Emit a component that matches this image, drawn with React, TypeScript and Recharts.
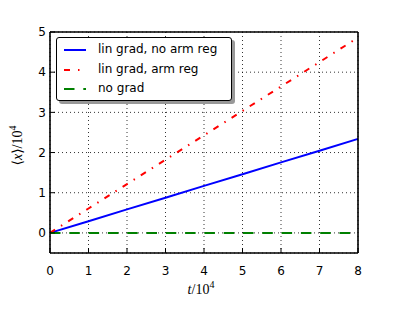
import React from 'react';
import { LineChart, Line, XAxis, YAxis, CartesianGrid, Legend } from 'recharts';

const tValues = [0, 1, 2, 3, 4, 5, 6, 7, 8];
const linNoArm = [0, 0.29, 0.585, 0.875, 1.17, 1.46, 1.755, 2.045, 2.34];
const linArm = [0, 0.607, 1.215, 1.822, 2.43, 3.037, 3.645, 4.252, 4.86];
const noGrad = [0, 0, 0, 0, 0, 0, 0, 0, 0];
const xTicks = [0, 1, 2, 3, 4, 5, 6, 7, 8];
const yTicks = [0, 1, 2, 3, 4, 5];
const seriesNames = ['lin grad, no arm reg', 'lin grad, arm reg', 'no grad'];
const seriesColors = ['#0000ff', '#ff0000', '#008000'];
const seriesDash = ['', '6 7 1.5 7', '10.5 8.8'];
const legendDash = ['', '6 8 1.5 8', '10.5 8.8'];

const data = tValues.map((t, i) => ({ t, a: linNoArm[i], b: linArm[i], c: noGrad[i] }));
const keys = ['a', 'b', 'c'];

const tickStyle = { fill: '#000', fontSize: 12, fontFamily: 'DejaVu Sans' };
const axisLineStyle = { stroke: '#000', strokeWidth: 1.6 };
const tickLineStyle = { stroke: '#000', strokeWidth: 1 };

const XLabel = (props: any) => {
  const vb = props.viewBox || { x: 50, y: 253, width: 308, height: 30 };
  const cx = vb.x + vb.width / 2 - 3;
  return (
    <text x={cx} y={vb.y + 41} textAnchor="middle" fontFamily="Liberation Serif, DejaVu Serif, serif" fontSize={14} fill="#000">
      <tspan fontStyle="italic">t</tspan>
      <tspan>/10</tspan>
      <tspan dy={-6} fontSize={10}>4</tspan>
    </text>
  );
};

const YLabel = (props: any) => {
  const vb = props.viewBox || { x: 20, y: 32, width: 30, height: 221 };
  const x = vb.x + vb.width - 28;
  const y = vb.y + vb.height / 2 + 3;
  return (
    <text x={x} y={y} transform={`rotate(-90, ${x}, ${y})`} textAnchor="middle" fontFamily="Liberation Serif, DejaVu Serif, serif" fontSize={14} fill="#000">
      <tspan>⟨</tspan>
      <tspan fontStyle="italic">x</tspan>
      <tspan>⟩/10</tspan>
      <tspan dy={-6} fontSize={10}>4</tspan>
    </text>
  );
};

const LegendBox = () => (
  <div
    style={{
      width: 174,
      height: 60,
      border: '1px solid #000',
      borderRadius: 3,
      background: '#fff',
      boxShadow: '3px 3px 0 #999',
      fontFamily: 'DejaVu Sans',
      fontSize: 12,
      color: '#000',
      paddingTop: 2,
      boxSizing: 'content-box',
    }}
  >
    {seriesNames.map((name, i) => (
      <div key={name} style={{ height: 19.5, position: 'relative' }}>
        <svg width={22} height={4} style={{ position: 'absolute', left: 7, top: 8 }}>
          <line x1={0} y1={2} x2={22} y2={2} stroke={seriesColors[i]} strokeWidth={2} strokeDasharray={legendDash[i] || undefined} />
        </svg>
        <span style={{ position: 'absolute', left: 41, top: 2, lineHeight: '15px', whiteSpace: 'nowrap' }}>{name}</span>
      </div>
    ))}
  </div>
);

export default function App() {
  return (
    <div style={{ position: 'absolute', left: 0, top: 0, width: 399, height: 318, background: '#fff' }}>
      <LineChart width={399} height={318} data={data} margin={{ top: 31, right: 40, bottom: 35, left: 20 }}>
        <CartesianGrid stroke="#000" strokeWidth={0.8} strokeDasharray="1 3" />
        <XAxis
          dataKey="t"
          type="number"
          domain={[0, 8]}
          ticks={xTicks}
          height={30}
          tick={tickStyle}
          tickSize={-5}
          tickMargin={18}
          tickLine={tickLineStyle}
          axisLine={axisLineStyle}
          interval={0}
          label={<XLabel />}
        />
        <XAxis
          xAxisId="top"
          orientation="top"
          type="number"
          domain={[0, 8]}
          ticks={xTicks}
          height={1}
          tick={false}
          tickSize={-5}
          tickLine={tickLineStyle}
          axisLine={axisLineStyle}
          interval={0}
        />
        <YAxis
          type="number"
          domain={[-0.5, 5]}
          ticks={yTicks}
          width={30}
          tick={tickStyle}
          tickSize={-5}
          tickMargin={9}
          tickLine={tickLineStyle}
          axisLine={axisLineStyle}
          interval={0}
          label={<YLabel />}
        />
        <YAxis
          yAxisId="right"
          orientation="right"
          type="number"
          domain={[-0.5, 5]}
          ticks={yTicks}
          width={1}
          tick={false}
          tickSize={-5}
          tickLine={tickLineStyle}
          axisLine={axisLineStyle}
          interval={0}
        />
        {keys.map((k, i) => (
          <Line
            key={k}
            dataKey={k}
            name={seriesNames[i]}
            type="linear"
            stroke={seriesColors[i]}
            strokeWidth={2}
            strokeDasharray={seriesDash[i] || undefined}
            dot={false}
            activeDot={false}
            isAnimationActive={false}
          />
        ))}
        <Legend
          layout="horizontal"
          verticalAlign="middle"
          align="center"
          content={<LegendBox />}
          wrapperStyle={{ left: 56, top: 37, width: 'auto', height: 'auto' }}
        />
      </LineChart>
    </div>
  );
}
